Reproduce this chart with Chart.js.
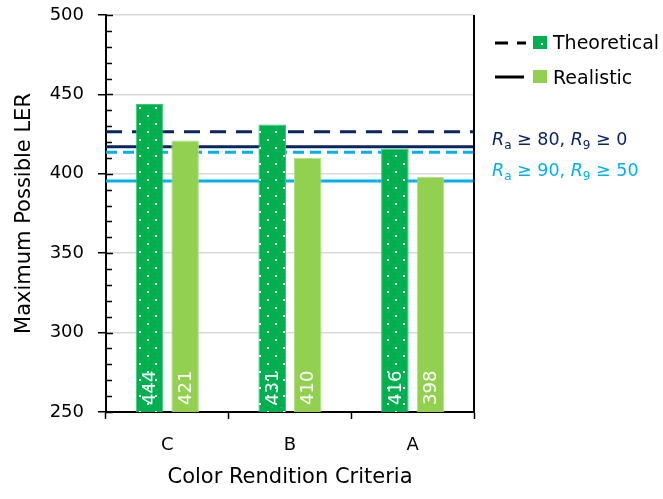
<!DOCTYPE html>
<html><head><meta charset="utf-8">
<script src="https://cdn.jsdelivr.net/npm/chart.js@4"></script>
<style>html,body{margin:0;padding:0;background:#fff}canvas{display:block}</style>
</head><body>
<canvas id="c" width="663" height="499"></canvas>
<script>
// ---- data ----
const categories = ['C', 'B', 'A'];
const theoretical = [444, 431, 416];
const realistic = [421, 410, 398];
// reference levels (Ra >= 80, R9 >= 0) and (Ra >= 90, R9 >= 50)
const ra80Theoretical = 426.5;
const ra80Realistic = 417;
const ra90Theoretical = 413.5;
const ra90Realistic = 395.5;
const yTickMin = 250, yTickMax = 500, yTickStep = 50, yMinorStep = 10;
const seriesNames = ['Theoretical', 'Realistic'];

const FONT = '"DejaVu Sans", sans-serif';
const GREEN = '#00B050', LGREEN = '#92D050', NAVY = '#0B2561', SKY = '#00B0F0';

const canvas = document.getElementById('c');
const ctx0 = canvas.getContext('2d');
function dotPattern() {
  const t = document.createElement('canvas'); t.width = 16; t.height = 16;
  const g = t.getContext('2d');
  g.fillStyle = GREEN; g.fillRect(0, 0, 16, 16);
  g.fillStyle = '#fff'; g.fillRect(3, 3, 2, 2); g.fillRect(11, 11, 2, 2);
  return ctx0.createPattern(t, 'repeat');
}

const refLines = [
  {value: ra80Theoretical, color: NAVY, dash: [16, 10]},
  {value: ra80Realistic, color: NAVY, dash: []},
  {value: ra90Theoretical, color: SKY, dash: [11, 6]},
  {value: ra90Realistic, color: SKY, dash: []}
];

const levelLines = {
  id: 'levelLines',
  beforeDatasetsDraw(chart) {
    const ctx = chart.ctx, a = chart.chartArea, y = chart.scales.y;
    ctx.save();
    ctx.lineWidth = 3;
    refLines.slice().reverse().forEach(l => {
      const py = y.getPixelForValue(l.value);
      ctx.strokeStyle = l.color;
      ctx.setLineDash(l.dash);
      ctx.beginPath();
      ctx.moveTo(a.left, py);
      ctx.lineTo(a.right, py);
      ctx.stroke();
    });
    ctx.restore();
  }
};

const barLabels = {
  id: 'barLabels',
  afterDatasetsDraw(chart) {
    const ctx = chart.ctx;
    const bottom = chart.scales.y.getPixelForValue(yTickMin);
    chart.data.datasets.forEach((ds, i) => {
      const meta = chart.getDatasetMeta(i);
      meta.data.forEach((el, j) => {
        const p = el.getProps(['x'], true);
        ctx.save();
        ctx.translate(p.x, bottom - 7);
        ctx.rotate(-Math.PI / 2);
        ctx.font = '18px ' + FONT;
        ctx.fillStyle = '#fff';
        ctx.textAlign = 'left';
        ctx.textBaseline = 'middle';
        ctx.fillText(String(ds.data[j]), 0, 1);
        ctx.restore();
      });
    });
  }
};

const frame = {
  id: 'frame',
  afterDraw(chart) {
    const ctx = chart.ctx, a = chart.chartArea, y = chart.scales.y;
    ctx.save();
    ctx.strokeStyle = '#000';
    ctx.lineWidth = 1.5;
    for (let v = yTickMin; v <= yTickMax; v += yMinorStep) {
      const py = Math.round(y.getPixelForValue(v)) + 0.5;
      ctx.beginPath();
      ctx.moveTo(a.left, py);
      ctx.lineTo(a.left + (v % yTickStep === 0 ? 7 : 6), py);
      ctx.stroke();
    }
    ctx.lineWidth = 2;
    ctx.beginPath();
    ctx.moveTo(a.right, a.top);
    ctx.lineTo(a.right, a.bottom);
    ctx.stroke();
    ctx.restore();
  }
};

const sideLegend = {
  id: 'sideLegend',
  afterDraw(chart) {
    const ctx = chart.ctx;
    ctx.save();
    ctx.strokeStyle = '#000'; ctx.lineWidth = 3;
    ctx.setLineDash([13, 9]);
    ctx.beginPath(); ctx.moveTo(495, 43); ctx.lineTo(526, 43); ctx.stroke();
    ctx.setLineDash([]);
    ctx.beginPath(); ctx.moveTo(495, 77); ctx.lineTo(524, 77); ctx.stroke();
    ctx.fillStyle = GREEN; ctx.fillRect(533, 36, 14, 13);
    ctx.fillStyle = '#fff'; ctx.fillRect(541, 43, 2, 2);
    ctx.fillStyle = LGREEN; ctx.fillRect(533, 70, 14, 13);
    ctx.fillStyle = '#000'; ctx.font = '19px ' + FONT;
    ctx.textBaseline = 'alphabetic'; ctx.textAlign = 'left';
    ctx.fillText(seriesNames[0], 553, 49);
    ctx.fillText(seriesNames[1], 553, 84);
    function crit(x, yb, color, a, b) {
      ctx.fillStyle = color;
      let cx = x;
      const parts = [
        ['italic 17.5px ' + FONT, 'R', 0],
        ['12px ' + FONT, 'a', 4],
        ['17.5px ' + FONT, ' \u2265 ' + a + ', ', 0],
        ['italic 17.5px ' + FONT, 'R', 0],
        ['12px ' + FONT, '9', 4],
        ['17.5px ' + FONT, ' \u2265 ' + b, 0]
      ];
      parts.forEach(p => {
        ctx.font = p[0];
        ctx.fillText(p[1], cx, yb + p[2]);
        cx += ctx.measureText(p[1]).width;
      });
    }
    crit(492, 145, NAVY, '80', '0');
    crit(492, 176, SKY, '90', '50');
    ctx.restore();
  }
};

new Chart(canvas, {
  type: 'bar',
  data: {
    labels: categories,
    datasets: [
      {label: seriesNames[0], data: theoretical, backgroundColor: dotPattern(),
       borderColor: '#3cc777', borderWidth: 1,
       categoryPercentage: 0.58, barPercentage: 0.775},
      {label: seriesNames[1], data: realistic, backgroundColor: LGREEN,
       borderColor: '#b5e08a', borderWidth: 1,
       categoryPercentage: 0.58, barPercentage: 0.775}
    ]
  },
  options: {
    responsive: false,
    animation: false,
    layout: {padding: {left: 0, right: 189, top: 15, bottom: 0}},
    plugins: {legend: {display: false}, tooltip: {enabled: false}},
    scales: {
      x: {
        grid: {offset: true, drawOnChartArea: false, tickLength: 7, tickColor: '#000', tickWidth: 1.5},
        border: {color: '#000', width: 2},
        ticks: {font: {family: FONT, size: 18}, color: '#000', padding: 16},
        title: {display: true, text: 'Color Rendition Criteria', font: {family: FONT, size: 21}, color: '#000', padding: {top: 0, bottom: 9}},
        afterFit(s) { s.height = 87; s.paddingLeft = 0; s.paddingRight = 0; }
      },
      y: {
        min: yTickMin, max: yTickMax,
        ticks: {stepSize: yTickStep, font: {family: FONT, size: 18}, color: '#000', padding: 14},
        grid: {color: '#d9d9d9', lineWidth: 1.5, tickLength: 8, tickColor: '#000', tickWidth: 1.5},
        border: {color: '#000', width: 2},
        title: {display: true, text: 'Maximum Possible LER', font: {family: FONT, size: 21}, color: '#000', padding: {top: 12, bottom: 0}},
        afterFit(s) { s.width = 106; s.paddingTop = 0; s.paddingBottom = 0; }
      }
    }
  },
  plugins: [levelLines, barLabels, frame, sideLegend]
});
</script>
</body></html>
